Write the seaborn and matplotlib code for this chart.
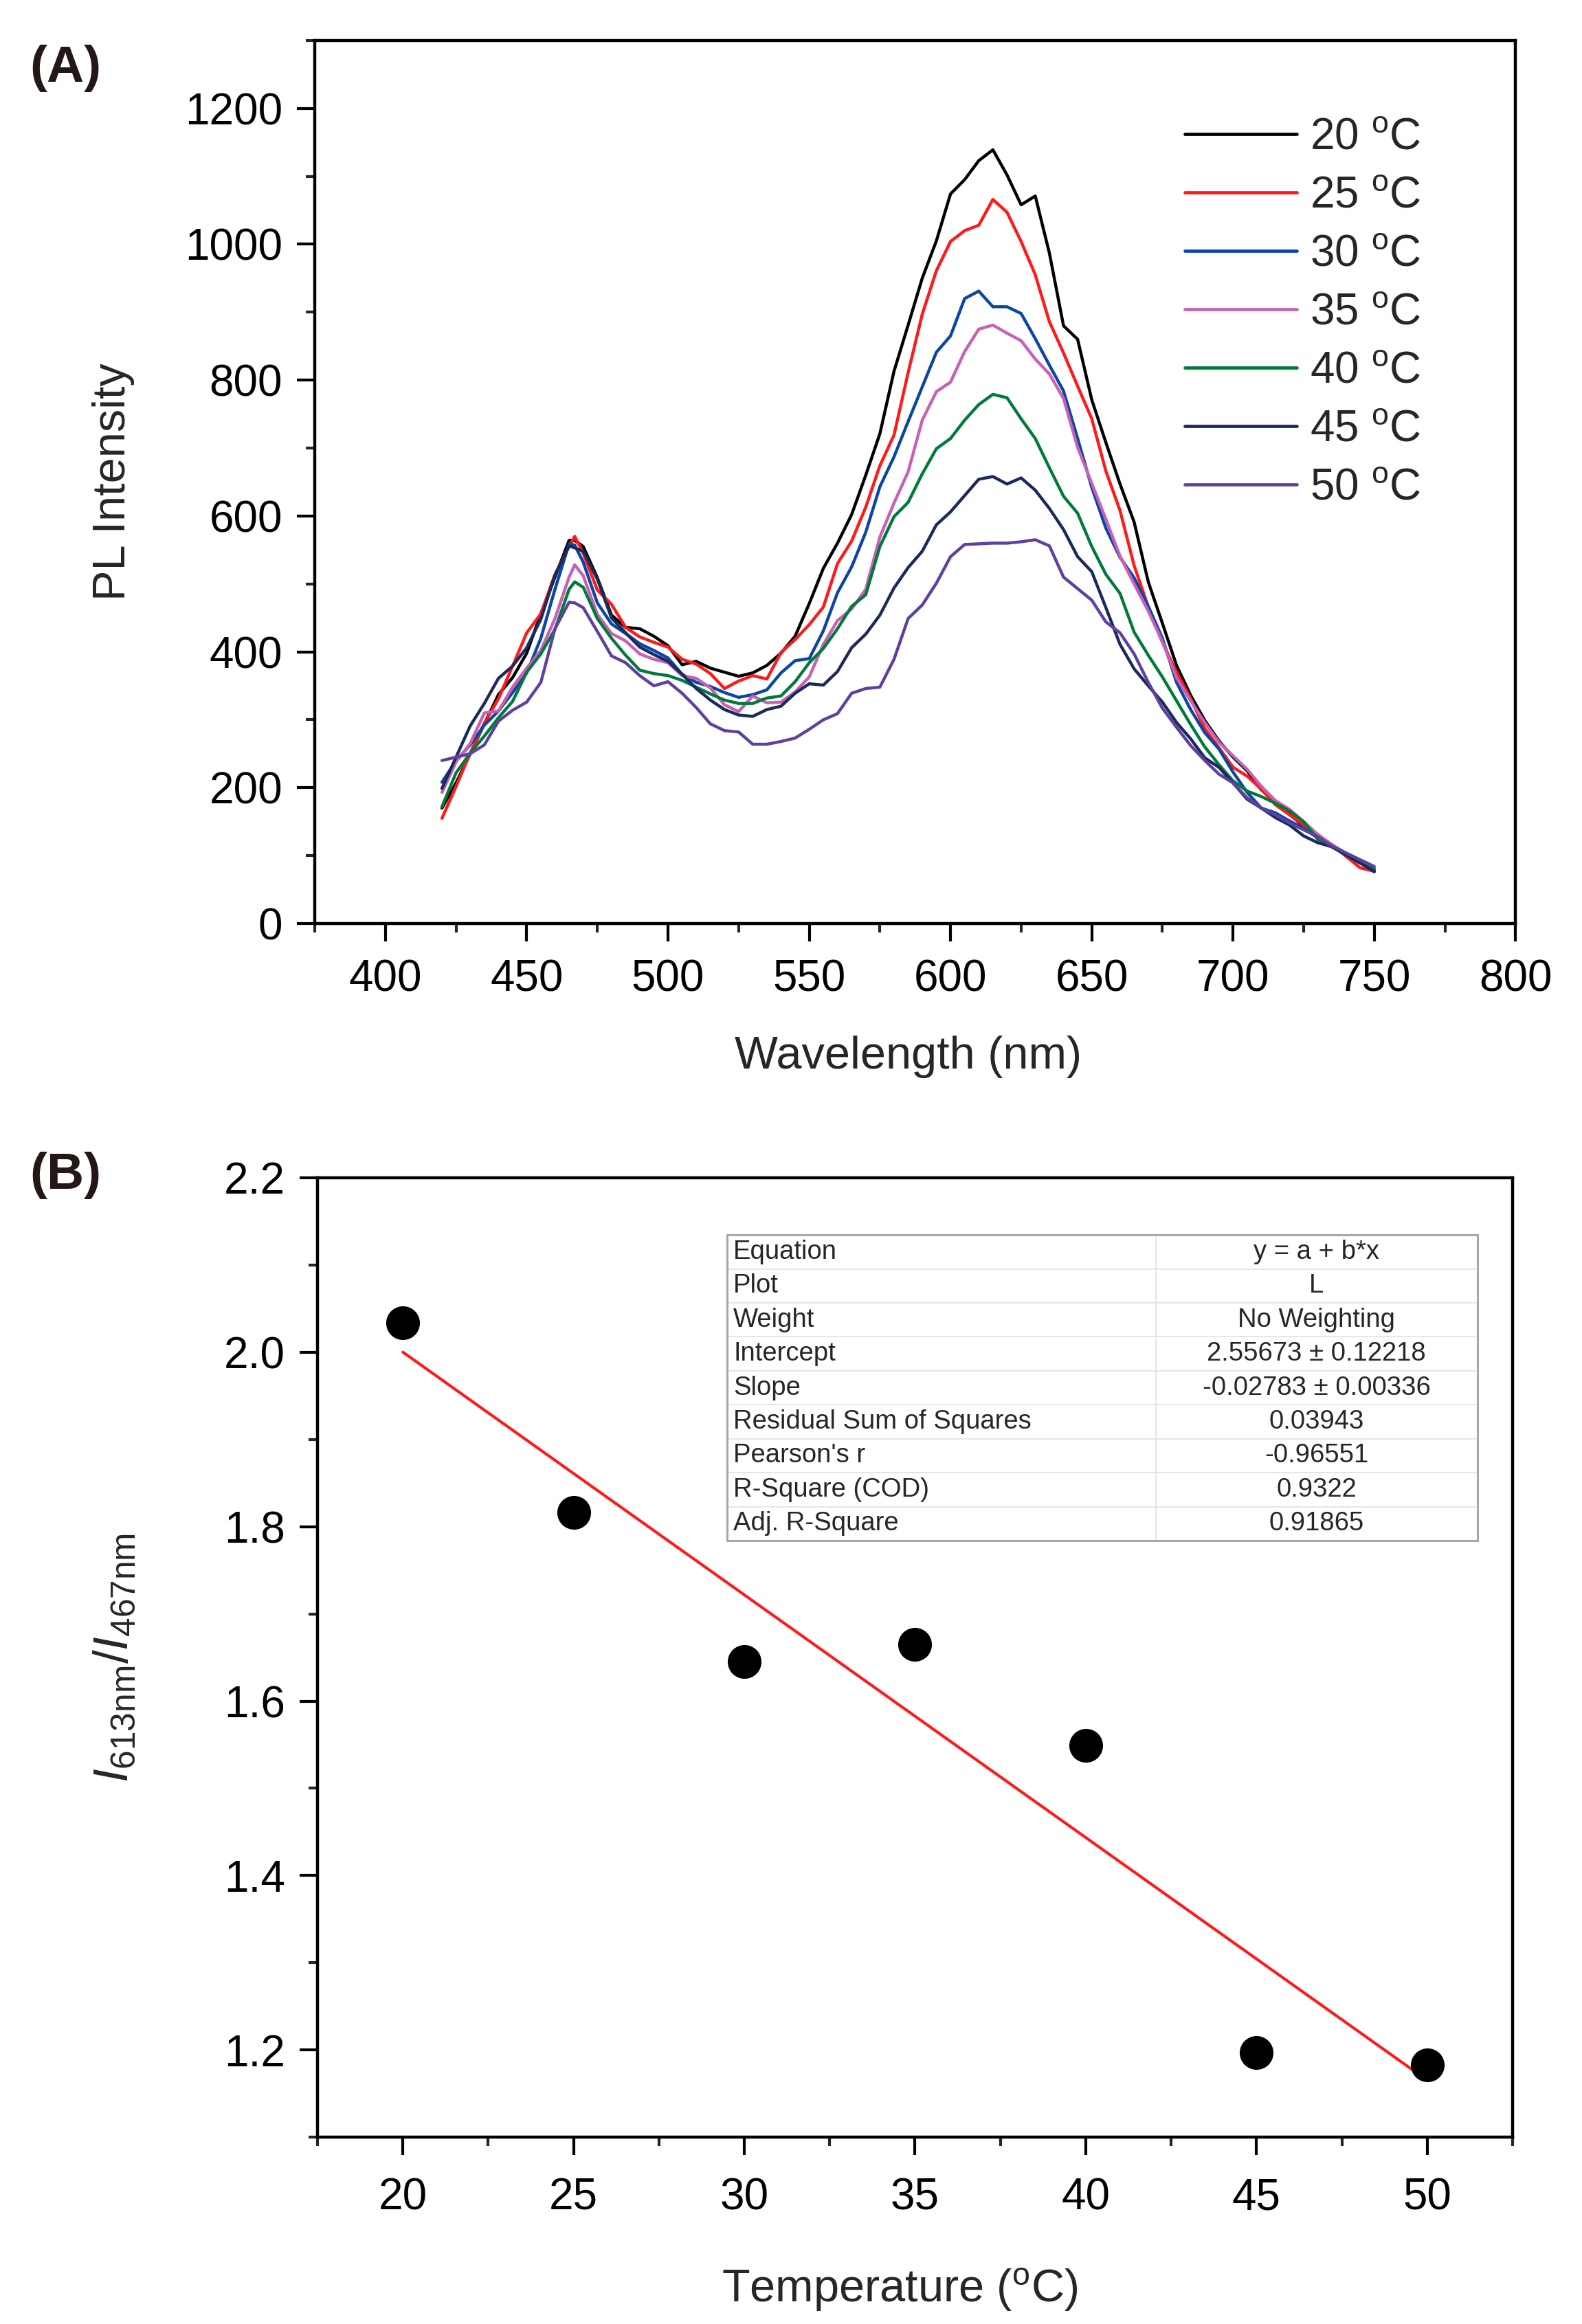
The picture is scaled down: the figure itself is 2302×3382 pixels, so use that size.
import numpy as np
import pandas as pd
import matplotlib
matplotlib.use("Agg")
import matplotlib.pyplot as plt
import seaborn as sns
from matplotlib.ticker import MultipleLocator

# 光谱数据
wavelength = [420, 425, 430, 435, 440, 445, 450, 455, 460, 465, 467, 470, 475, 480, 485, 490, 495, 500,
              505, 510, 515, 520, 525, 530, 535, 540, 545, 550, 555, 560, 565, 570, 575, 580, 585, 590,
              595, 600, 605, 610, 615, 620, 625, 630, 635, 640, 645, 650, 655, 660, 665, 670, 675, 680,
              685, 690, 695, 700, 705, 710, 715, 720, 725, 730, 735, 740, 745, 750]

pl_20 = [170, 207, 250, 294, 337, 362, 398, 456, 510, 564, 564, 555, 509, 454, 436, 434, 423, 409,
         381, 386, 376, 370, 364, 369, 380, 398, 423, 471, 523, 560, 602, 660, 721, 813, 881, 950,
         1005, 1074, 1095, 1123, 1139, 1102, 1058, 1071, 987, 880, 860, 771, 708, 647, 591, 503, 442, 380,
         336, 299, 269, 245, 225, 197, 178, 161, 143, 126, 113, 101, 91, 81]
pl_25 = [155, 202, 251, 295, 331, 379, 428, 456, 514, 555, 570, 545, 491, 470, 436, 422, 414, 407,
         389, 382, 368, 346, 357, 365, 360, 399, 418, 440, 466, 530, 563, 613, 674, 719, 811, 897,
         961, 1004, 1020, 1028, 1066, 1047, 1004, 955, 886, 840, 791, 743, 666, 608, 527, 466, 414, 370,
         331, 287, 259, 230, 217, 198, 175, 160, 145, 131, 116, 99, 82, 77]
pl_30 = [208, 240, 263, 292, 313, 340, 369, 420, 492, 559, 557, 532, 472, 441, 427, 412, 402, 391,
         367, 355, 349, 340, 333, 337, 344, 369, 387, 390, 431, 487, 525, 576, 643, 687, 739, 790,
         841, 865, 920, 931, 908, 908, 898, 861, 822, 784, 714, 642, 582, 539, 509, 467, 420, 355,
         315, 281, 257, 223, 193, 170, 163, 151, 140, 126, 116, 103, 91, 76]
pl_35 = [193, 238, 265, 310, 313, 348, 376, 402, 449, 510, 528, 512, 455, 427, 416, 397, 389, 384,
         365, 361, 347, 322, 312, 335, 325, 326, 341, 363, 411, 446, 463, 492, 569, 619, 665, 741,
         783, 797, 842, 875, 881, 869, 858, 831, 809, 773, 701, 648, 595, 541, 500, 460, 415, 362,
         328, 296, 267, 247, 227, 202, 181, 168, 150, 131, 116, 103, 92, 82]
pl_40 = [172, 222, 251, 276, 303, 327, 370, 397, 433, 492, 503, 495, 449, 420, 395, 373, 368, 365,
         358, 348, 338, 329, 324, 324, 332, 335, 356, 384, 405, 434, 467, 484, 555, 599, 620, 662,
         699, 714, 741, 764, 779, 774, 743, 714, 671, 629, 604, 555, 514, 486, 429, 395, 363, 328,
         293, 260, 234, 210, 195, 187, 177, 166, 150, 124, 114, 101, 89, 79]
pl_45 = [199, 245, 291, 324, 361, 379, 406, 448, 513, 556, 553, 548, 507, 450, 428, 407, 396, 386,
         367, 346, 329, 315, 307, 305, 315, 320, 339, 353, 351, 371, 406, 426, 454, 494, 524, 548,
         587, 606, 630, 654, 658, 647, 656, 638, 611, 580, 540, 518, 465, 411, 375, 350, 326, 296,
         272, 244, 230, 207, 183, 170, 156, 145, 129, 119, 113, 101, 89, 77]
pl_50 = [240, 245, 250, 263, 298, 314, 326, 355, 434, 473, 472, 465, 430, 394, 384, 365, 350, 356,
         339, 318, 294, 284, 282, 264, 264, 268, 273, 286, 300, 309, 339, 346, 348, 389, 449, 469,
         501, 540, 558, 559, 560, 560, 562, 565, 556, 510, 493, 476, 444, 428, 397, 355, 317, 289,
         262, 240, 220, 207, 185, 170, 160, 148, 138, 128, 114, 104, 94, 84]

series_labels = ["20 $^{\\mathrm{o}}$C", "25 $^{\\mathrm{o}}$C", "30 $^{\\mathrm{o}}$C", "35 $^{\\mathrm{o}}$C",
                 "40 $^{\\mathrm{o}}$C", "45 $^{\\mathrm{o}}$C", "50 $^{\\mathrm{o}}$C"]
series_colors = ["#000000", "#ff1a1a", "#0a46a6", "#c860b4", "#007a3a", "#1b2a5c", "#5e40a0"]

# 比值数据与线性拟合
temperature = [20, 25, 30, 35, 40, 45, 50]
ratio = [2.034, 1.816, 1.645, 1.665, 1.549, 1.197, 1.183]
intercept = 2.55673
slope = -0.02783

table_keys = ["Equation", "Plot", "Weight", "Intercept", "Slope", "Residual Sum of Squares",
              "Pearson's r", "R-Square (COD)", "Adj. R-Square"]
table_vals = ["y = a + b*x", "L", "No Weighting", "2.55673 \u00b1 0.12218", "-0.02783 \u00b1 0.00336",
              "0.03943", "-0.96551", "0.9322", "0.91865"]

sns.set_theme(style="white")
plt.rcParams['font.family'] = ['Liberation Sans', 'DejaVu Sans']
plt.rcParams['mathtext.fontset'] = 'custom'
plt.rcParams['mathtext.rm'] = 'Liberation Sans'
plt.rcParams['mathtext.it'] = 'Liberation Sans:italic'
plt.rcParams['mathtext.bf'] = 'Liberation Sans:bold'

fig = plt.figure(figsize=(23.02, 33.82), dpi=100)
ax1 = fig.add_axes([0.199, 0.6026, 0.759, 0.380])
ax2 = fig.add_axes([0.2007, 0.0804, 0.7554, 0.4128])

spectra = [pl_20, pl_25, pl_30, pl_35, pl_40, pl_45, pl_50]
for vals, lab, col in zip(spectra, series_labels, series_colors):
    df = pd.DataFrame({"wl": wavelength, "I": vals})
    sns.lineplot(data=df, x="wl", y="I", color=col, label=lab, linewidth=3.2,
                 estimator=None, sort=False, ax=ax1)

ax1.xaxis.set_major_locator(MultipleLocator(50))
ax1.xaxis.set_minor_locator(MultipleLocator(25))
ax1.yaxis.set_major_locator(MultipleLocator(200))
ax1.yaxis.set_minor_locator(MultipleLocator(100))
ax1.set_xticks(range(400, 801, 50))
ax1.set_xlim(375, 800)
ax1.set_ylim(0, 1300)
ax1.set_xlabel("Wavelength (nm)", fontsize=48)
ax1.set_ylabel("PL Intensity", fontsize=48)
ax1.xaxis.set_label_coords(0.494, -0.127)
ax1.yaxis.set_label_coords(-0.150, 0.5)
leg = ax1.legend(loc="upper left", bbox_to_anchor=(0.7247, 0.913), frameon=False, fontsize=46,
                 handlelength=2.55, handletextpad=0.3, labelspacing=0.39, borderpad=0, borderaxespad=0)
for h in leg.get_lines():
    h.set_linewidth(3.4)

# 下图
sns.scatterplot(x=temperature, y=ratio, color="black", s=1250, edgecolor="black", linewidth=0, ax=ax2, zorder=3)
fit_x = np.array(temperature)
fit_y = intercept + slope * fit_x
sns.lineplot(x=fit_x, y=fit_y, color="#ff1a1a", linewidth=3.0, ax=ax2, zorder=2)

ax2.set_xticks(temperature)
ax2.xaxis.set_minor_locator(MultipleLocator(2.5))
ax2.set_yticks([1.2, 1.4, 1.6, 1.8, 2.0, 2.2])
ax2.set_yticks(np.arange(1.1, 2.2, 0.2), minor=True)
ax2.set_yticklabels(["1.2", "1.4", "1.6", "1.8", "2.0", "2.2"])
ax2.set_xlim(17.5, 52.5)
ax2.set_ylim(1.1, 2.2)
ax2.set_xlabel("Temperature ($^{\\mathrm{o}}$C)", fontsize=48)
ax2.set_ylabel("$\\mathit{I}_{\\mathrm{613nm}}/\\mathit{I}_{\\mathrm{467nm}}$", fontsize=51)
ax2.xaxis.set_label_coords(0.487, -0.135)
ax2.yaxis.set_label_coords(-0.150, 0.5)

for ax, p in ((ax1, 18), (ax2, 23)):
    for s in ax.spines.values():
        s.set_visible(True)
        s.set_color("black")
        s.set_linewidth(3.2)
    ax.tick_params(which="major", direction="out", length=19, width=3.0, labelsize=46,
                   bottom=True, left=True, top=False, right=False, pad=p, colors="black")
    ax.tick_params(axis="y", which="major", pad=15)
    ax.tick_params(which="minor", direction="out", length=9.5, width=3.0,
                   bottom=True, left=True, top=False, right=False)
    ax.grid(False)

# 拟合结果表
tab = ax2.table(cellText=[[k, v] for k, v in zip(table_keys, table_vals)],
                colWidths=[0.571, 0.429], bbox=[0.3427, 0.6218, 0.628, 0.3187], zorder=5)
tab.auto_set_font_size(False)
for (r, c), cell in tab.get_celld().items():
    cell.set_edgecolor("#e4e4e4")
    cell.set_linewidth(1.2)
    cell.set_facecolor("white")
    cell.PAD = 0.015
    cell.get_text().set_fontsize(27.5)
    cell.get_text().set_ha("left" if c == 0 else "center")
    cell._loc = "left" if c == 0 else "center"
border = plt.Rectangle((0.3427, 0.6218), 0.628, 0.3187, transform=ax2.transAxes, fill=False,
                       edgecolor="#a8a8a8", linewidth=2.2, zorder=6)
ax2.add_patch(border)

fig.text(0.0187, 0.9707, "(A)", fontsize=54, fontweight="bold", color="#231815", ha="left", va="center")
fig.text(0.0187, 0.4941, "(B)", fontsize=54, fontweight="bold", color="#231815", ha="left", va="center")

fig.savefig("out.png", dpi=100, facecolor="white")
